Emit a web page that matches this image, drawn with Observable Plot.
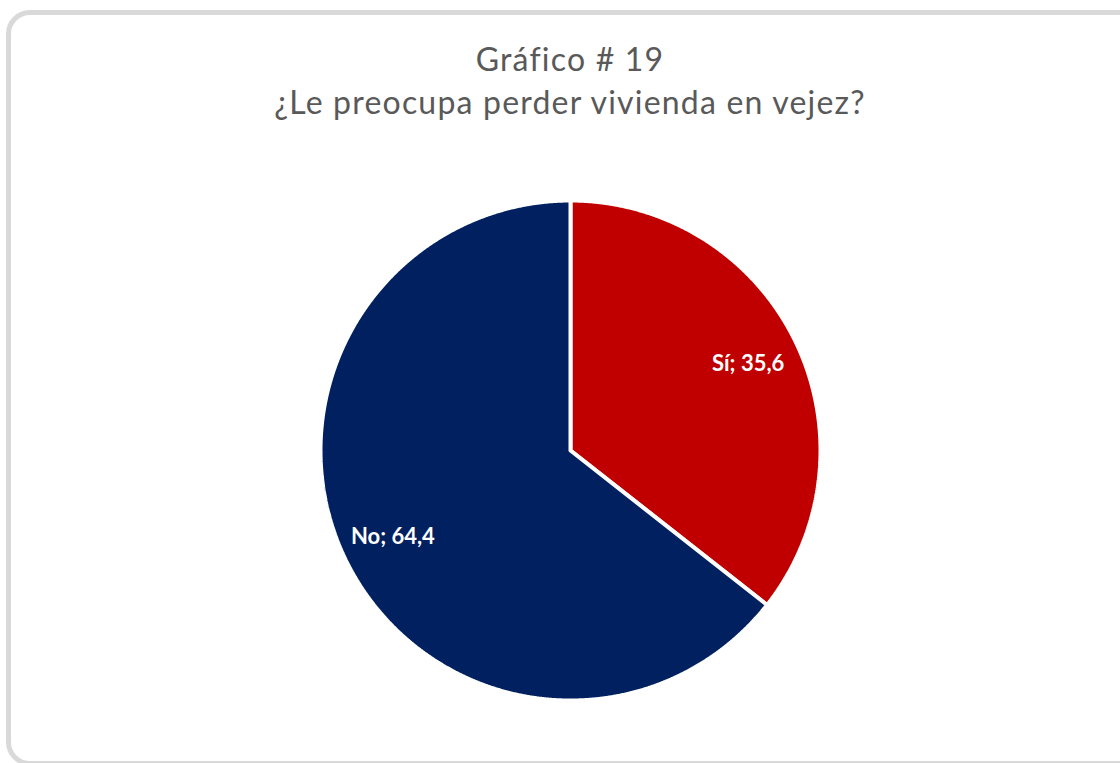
<!DOCTYPE html>
<html>
<head>
<meta charset="utf-8">
<script src="https://cdn.jsdelivr.net/npm/d3@7"></script>
<script src="https://cdn.jsdelivr.net/npm/@observablehq/plot@0.6"></script>
<style>
  html, body { margin: 0; padding: 0; background: #fff; width: 1120px; height: 763px; overflow: hidden; }
  #frame { position: absolute; left: 6px; top: 10px; width: 1140px; height: 746px; border: 5px solid #D9D9D9; border-radius: 24px; }
  #title { position: absolute; left: 0; top: 37px; width: 1140px; text-align: center; font-family: Lato, "Open Sans", sans-serif; color: #595959; font-size: 32px; letter-spacing: 1.2px; line-height: 43px; }
  #chart { position: absolute; left: 0; top: 0; }
</style>
</head>
<body>
<div id="frame"></div>
<div id="title">Gráfico # 19<br>¿Le preocupa perder vivienda en vejez?</div>
<div id="chart"></div>
<script>
const categories = ["Sí", "No"];
const values = [35.6, 64.4];
const labels = ["Sí; 35,6", "No; 64,4"];
const colors = ["#C00000", "#002060"];

const rows = categories.map((c, i) => ({category: c, value: values[i], label: labels[i]}));
const arcs = d3.pie().sort(null).value(d => d.value)(rows);

// polygon points for each slice (angle measured clockwise from top)
const pts = [];
for (const a of arcs) {
  const c = a.data.category;
  pts.push({category: c, x: 0, y: 0});
  const n = Math.max(2, Math.ceil((a.endAngle - a.startAngle) / 0.004));
  for (let k = 0; k <= n; k++) {
    const t = a.startAngle + (a.endAngle - a.startAngle) * k / n;
    pts.push({category: c, x: Math.sin(t), y: Math.cos(t)});
  }
  pts.push({category: c, x: 0, y: 0});
}
const labelPts = arcs.map(a => {
  const m = (a.startAngle + a.endAngle) / 2;
  return {label: a.data.label, x: 0.79 * Math.sin(m), y: 0.79 * Math.cos(m)};
});

const plot = Plot.plot({
  width: 1120,
  height: 763,
  marginLeft: 320,
  marginRight: 300,
  marginTop: 200,
  marginBottom: 63,
  x: {domain: [-1, 1], axis: null},
  y: {domain: [-1, 1], axis: null},
  color: {domain: categories, range: colors},
  style: {background: "transparent", overflow: "visible"},
  marks: [
    Plot.line(pts, {x: "x", y: "y", z: "category", fill: "category", stroke: "white", strokeWidth: 4, strokeLinejoin: "miter", curve: "linear"}),
    Plot.text(labelPts, {x: "x", y: "y", text: "label", fill: "white", fontSize: 22, fontWeight: "bold", fontFamily: "Lato, 'Open Sans', sans-serif", textAnchor: "middle"})
  ]
});
document.getElementById("chart").appendChild(plot);
</script>
</body>
</html>
